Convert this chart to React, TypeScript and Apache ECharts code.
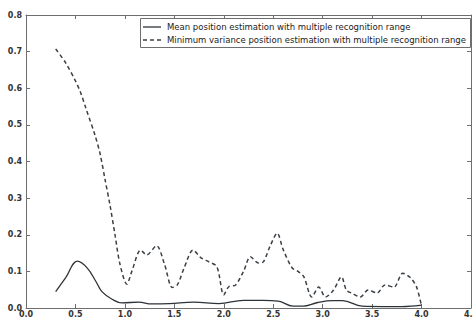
import React, { useEffect, useRef } from "react";
import * as echarts from "echarts";

const meanX = [0.3, 0.4, 0.52, 0.62, 0.71, 0.77, 0.87, 0.97, 1.14, 1.27, 1.45, 1.7, 1.95, 2.2, 2.4, 2.55, 2.7, 2.8, 2.95, 3.1, 3.2, 3.4, 3.6, 3.8, 4.0];
const meanY = [0.045, 0.082, 0.128, 0.109, 0.071, 0.044, 0.024, 0.014, 0.016, 0.011, 0.012, 0.016, 0.012, 0.021, 0.021, 0.019, 0.005, 0.005, 0.015, 0.02, 0.02, 0.005, 0.004, 0.004, 0.008];

const minVarX = [0.3, 0.4, 0.5, 0.55, 0.6, 0.7, 0.75, 0.8, 0.85, 0.9, 0.95, 1.02, 1.07, 1.16, 1.22, 1.32, 1.4, 1.48, 1.53, 1.6, 1.69, 1.77, 1.85, 1.93, 2.0, 2.05, 2.12, 2.2, 2.27, 2.35, 2.4, 2.47, 2.54, 2.6, 2.69, 2.75, 2.81, 2.89, 2.96, 3.03, 3.11, 3.19, 3.24, 3.3, 3.38, 3.46, 3.55, 3.63, 3.72, 3.81, 3.89, 3.95, 4.0];
const minVarY = [0.707, 0.67, 0.62, 0.59, 0.55, 0.47, 0.42, 0.35, 0.28, 0.2, 0.12, 0.065, 0.1, 0.158, 0.145, 0.17, 0.12, 0.056, 0.063, 0.11, 0.158, 0.137, 0.126, 0.113, 0.036, 0.058, 0.063, 0.1, 0.14, 0.123, 0.126, 0.17, 0.204, 0.16, 0.11, 0.1, 0.085, 0.03, 0.057, 0.03, 0.049, 0.085, 0.049, 0.04, 0.03, 0.049, 0.041, 0.063, 0.057, 0.095, 0.082, 0.057, 0.005];

const xTicks = { min: 0, max: 4.5, interval: 0.5 };
const yTicks = { min: 0, max: 0.8, interval: 0.1 };

const seriesNames = [
  "Mean position estimation with multiple recognition range",
  "Minimum variance position estimation with multiple recognition range",
];

const meanColor = "#2e3338";
const minVarColor = "#3a4046";
const frameColor = "#6e6e6e";

export default function App() {
  const ref = useRef<HTMLDivElement>(null);
  useEffect(() => {
    if (!ref.current) return;
    const chart = echarts.init(ref.current, null, { renderer: "svg" });
    const axisLine = () => ({ show: true, onZero: false, lineStyle: { color: frameColor, width: 1 } });
    const tick = () => ({ show: true, inside: true, length: 4, lineStyle: { color: frameColor } });
    const lbl = { fontSize: 8, color: "#333", fontFamily: "DejaVu Sans", fontWeight: "bold" as const };
    const legendFont = { fontSize: 8.5, fill: "#222", fontFamily: "DejaVu Sans" };
    chart.setOption({
      animation: false,
      backgroundColor: "#fff",
      grid: { left: 26, right: 2, top: 15, bottom: 9, containLabel: false, outerBoundsMode: "none" },
      legend: { show: false },
      graphic: [
        {
          type: "rect",
          shape: { x: 140.5, y: 18.5, width: 330, height: 29 },
          style: { fill: "#fff", stroke: frameColor, lineWidth: 1 },
          z: 100,
        },
        {
          type: "line",
          shape: { x1: 143, y1: 27, x2: 161, y2: 27 },
          style: { stroke: meanColor, lineWidth: 1.3 },
          z: 101,
        },
        {
          type: "line",
          shape: { x1: 143, y1: 40, x2: 161, y2: 40 },
          style: { stroke: minVarColor, lineWidth: 1.5, lineDash: [4, 3] },
          z: 101,
        },
        {
          type: "text",
          x: 167,
          y: 27,
          style: { text: seriesNames[0], ...legendFont, verticalAlign: "middle" },
          z: 101,
        },
        {
          type: "text",
          x: 167,
          y: 40,
          style: { text: seriesNames[1], ...legendFont, verticalAlign: "middle" },
          z: 101,
        },
      ],
      xAxis: [
        {
          type: "value",
          ...xTicks,
          axisLine: axisLine(),
          axisTick: tick(),
          splitLine: { show: false },
          axisLabel: { ...lbl, margin: 2, showMinLabel: true, showMaxLabel: true, hideOverlap: false, formatter: (v: number) => v.toFixed(1) },
        },
        {
          type: "value",
          position: "top",
          ...xTicks,
          axisLine: axisLine(),
          axisTick: tick(),
          splitLine: { show: false },
          axisLabel: { show: false },
        },
      ],
      yAxis: [
        {
          type: "value",
          ...yTicks,
          axisLine: axisLine(),
          axisTick: tick(),
          splitLine: { show: false },
          axisLabel: { ...lbl, margin: 4, showMaxLabel: true, formatter: (v: number) => v.toFixed(1) },
        },
        {
          type: "value",
          position: "right",
          ...yTicks,
          axisLine: axisLine(),
          axisTick: tick(),
          splitLine: { show: false },
          axisLabel: { show: false },
        },
      ],
      series: [
        {
          name: seriesNames[0],
          type: "line",
          data: meanX.map((x, i) => [x, meanY[i]]),
          symbol: "none",
          smooth: 0.4,
          lineStyle: { color: meanColor, width: 1.3, type: "solid" },
          itemStyle: { color: meanColor },
        },
        {
          name: seriesNames[1],
          type: "line",
          data: minVarX.map((x, i) => [x, minVarY[i]]),
          symbol: "none",
          smooth: 0.3,
          lineStyle: { color: minVarColor, width: 1.5, type: [4, 3] },
          itemStyle: { color: minVarColor },
        },
      ],
    });
    return () => chart.dispose();
  }, []);
  return <div ref={ref} style={{ width: 473, height: 317, position: "absolute", left: 0, top: 0 }} />;
}
